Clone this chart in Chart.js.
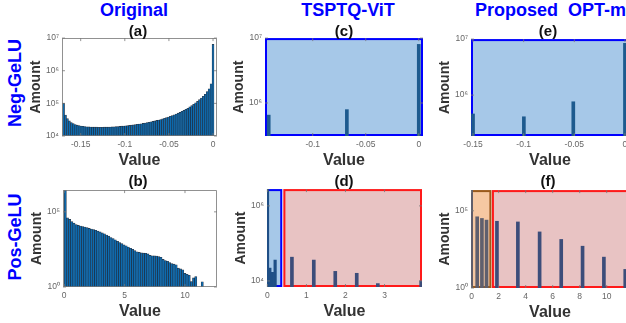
<!DOCTYPE html>
<html>
<head>
<meta charset="utf-8">
<script src="https://cdn.jsdelivr.net/npm/chart.js@4.4.0/dist/chart.umd.min.js"></script>
<style>
html, body { margin: 0; padding: 0; background: #fff; overflow: hidden; width: 626px; height: 323px; }
body { position: relative; font-family: "Liberation Sans", Arial, sans-serif; }
canvas { position: absolute; }
.lbl { position: absolute; white-space: pre; font-weight: bold; line-height: 1; }
.col { color: #0000ff; font-size: 18px; }
.row { color: #0000ff; font-size: 18px; transform: translate(-50%, -50%) rotate(-90deg); }
.sub { color: #111; font-size: 15px; transform: translate(-50%, -50%); }
</style>
</head>
<body>
<canvas id="pa"></canvas>
<canvas id="pb"></canvas>
<canvas id="pc"></canvas>
<canvas id="pd"></canvas>
<canvas id="pe"></canvas>
<canvas id="pf"></canvas>

<div class="lbl col" style="left:134px;top:1px;transform:translateX(-50%)">Original</div>
<div class="lbl col" style="left:348px;top:1px;transform:translateX(-50%)">TSPTQ-ViT</div>
<div class="lbl col" style="left:475px;top:1px">Proposed  OPT-m</div>
<div class="lbl row" style="left:15px;top:83px">Neg-GeLU</div>
<div class="lbl row" style="left:15px;top:237px">Pos-GeLU</div>
<div class="lbl sub" style="left:138px;top:30px">(a)</div>
<div class="lbl sub" style="left:138px;top:180px">(b)</div>
<div class="lbl sub" style="left:344px;top:30px">(c)</div>
<div class="lbl sub" style="left:344px;top:180px">(d)</div>
<div class="lbl sub" style="left:548px;top:30px">(e)</div>
<div class="lbl sub" style="left:548px;top:180px">(f)</div>

<script>
// (a) original Neg-GeLU histogram
const negBinStart = -0.1705
const negBinWidth = 0.0022
const negAmount = [
  100000, 44000, 34000, 29000, 26000, 24000, 22500, 21500, 20800, 20200,
  19800, 19500, 19200, 19000, 18800, 18700, 18600, 18600, 18500, 18500,
  18500, 18600, 18600, 18700, 18800, 19000, 19100, 19300, 19500, 19700,
  20000, 20200, 20500, 20800, 21100, 21500, 21900, 22300, 22800, 23300,
  23800, 24400, 25000, 25700, 26400, 27200, 28000, 29000, 30000, 31000,
  32000, 33500, 35000, 36500, 38000, 40000, 42000, 44500, 47000, 50000,
  53000, 57000, 61000, 66000, 71000, 78000, 85000, 94000, 104000, 115000,
  130000, 145000, 165000, 190000, 230000, 280000, 400000, 6400000
]
const negTicksX = [-0.15, -0.1, -0.05, 0]
const negTicksY = [1e4, 1e5, 1e6, 1e7]

// (b) original Pos-GeLU histogram
const posBinStart = 0
const posBinWidth = 0.18
const posAmount = [
  5000000, 39800, 31600, 22400, 17800, 14100, 12600, 11500, 10500, 9800,
  8900, 7900, 7200, 6600, 6000, 5200, 4600, 4000, 3500, 2900,
  2400, 1950, 1660, 1380, 1100, 910, 760, 630, 550, 460,
  380, 320, 260, 220, 200, 186, 178, 174, 158, 126,
  120, 117, 115, 105, 95, 69, 58, 52, 42, 36,
  33, 30, 18, 16, 14, 8, 7, 6, 2.3, 4,
  5, null, null, 2.2
]
const posTicksX = [0, 5, 10]
const posTicksY = [1, 1e5]

// (c) TSPTQ-ViT Neg-GeLU
const tsptqNegValue = [-0.1415, -0.0678, 0]
const tsptqNegAmount = [650000, 790000, 8000000]
const tsptqNegTicksX = [-0.1, -0.05, 0]
const tsptqNegTicksY = [1e6, 1e7]

// (d) TSPTQ-ViT Pos-GeLU
const tsptqPosInValue = [0.035, 0.095, 0.16, 0.23]
const tsptqPosInAmount = [5000000, 22000, 17000, 36000]
const tsptqPosOutValue = [0.59, 1.15, 1.70, 2.25, 2.79, 3.9]
const tsptqPosOutAmount = [43000, 36000, 18000, 16000, 8500, 10000]
const tsptqPosTicksX = [0, 1, 2, 3]
const tsptqPosTicksY = [1e4, 1e6]

// (e) proposed Neg-GeLU
const optNegValue = [-0.150, -0.0998, -0.051, 0]
const optNegAmount = [460000, 410000, 760000, 8400000]
const optNegTicksX = [-0.15, -0.1, -0.05, 0]
const optNegTicksY = [1e6, 1e7]

// (f) proposed Pos-GeLU
const optPosInValue = [0.07, 0.52, 0.87, 1.21]
const optPosInAmount = [5000000, 41000, 32000, 25000]
const optPosOutValue = [1.76, 3.31, 4.92, 6.52, 8.1, 9.68, 11.26]
const optPosOutAmount = [21000, 19000, 4300, 1400, 510, 100, 16]
const optPosTicksX = [0, 2, 4, 6, 8, 10]
const optPosTicksY = [1, 1e5]

const SUP = "⁰¹²³⁴⁵⁶⁷⁸⁹"
const FONT = '"Liberation Sans", Arial, sans-serif'
const lightBlue = '#a6c8e8', blue = '#0000ff'
const pink = '#e8c3c3', red = '#ff1a1a'
const orange = '#f6c8a2', brown = '#9a5a1c'

const pairs = (xs, ys) => xs.map((x, i) => ({ x: x, y: ys[i] }))
const bins = (start, w, ys) => ys.map((y, i) => ({ x: start + (i + 0.5) * w, y: y }))

// shaded ranges, axes box and inward tick marks (MATLAB look)
const panelFrame = {
  id: 'panelFrame',
  beforeDatasetsDraw(chart, args, opts) {
    const { ctx, chartArea: a, scales: { x } } = chart
    ctx.save()
    ;(opts.regions || []).forEach(r => {
      const x0 = Math.max(x.getPixelForValue(r.from), a.left)
      const x1 = Math.min(x.getPixelForValue(r.to), a.right)
      ctx.fillStyle = r.fill
      ctx.fillRect(x0, a.top, x1 - x0, a.bottom - a.top)
      ctx.strokeStyle = r.edge
      ctx.lineWidth = 2
      ctx.strokeRect(x0 + 1, a.top + 1, x1 - x0 - 2, a.bottom - a.top - 2)
    })
    ctx.restore()
  },
  afterDatasetsDraw(chart, args, opts) {
    const { ctx, chartArea: a, scales: { x, y } } = chart
    ctx.save()
    ctx.strokeStyle = '#777'
    ctx.lineWidth = 0.8
    ctx.beginPath()
    x.ticks.forEach(t => {
      const px = x.getPixelForValue(t.value)
      ctx.moveTo(px, a.bottom); ctx.lineTo(px, a.bottom - 3)
      ctx.moveTo(px, a.top); ctx.lineTo(px, a.top + 3)
    })
    y.ticks.forEach(t => {
      const py = y.getPixelForValue(t.value)
      ctx.moveTo(a.left, py); ctx.lineTo(a.left + 3, py)
      ctx.moveTo(a.right, py); ctx.lineTo(a.right - 3, py)
    })
    ctx.stroke()
    if (!(opts.regions || []).length) {
      ctx.strokeRect(a.left + 0.5, a.top + 0.5, a.right - a.left - 1, a.bottom - a.top - 1)
    }
    ctx.restore()
  }
}

function makePanel(id, cfg) {
  const el = document.getElementById(id)
  const yW = 34, xH = 34, padT = 8, padR = 6
  const [l, t, r, b] = cfg.plot
  const w = r - l + yW + padR, h = b - t + padT + xH
  el.style.left = (l - yW) + 'px'
  el.style.top = (t - padT) + 'px'
  el.width = w; el.height = h
  el.style.width = w + 'px'; el.style.height = h + 'px'

  return new Chart(el, {
    type: 'bar',
    data: { datasets: cfg.datasets },
    options: {
      responsive: false,
      animation: false,
      layout: { padding: { top: padT, right: padR, left: 0, bottom: 0 } },
      plugins: {
        legend: { display: false },
        tooltip: { enabled: false },
        panelFrame: { regions: cfg.regions || [] }
      },
      scales: {
        x: {
          type: 'linear', min: cfg.xRange[0], max: cfg.xRange[1], offset: false,
          grid: { display: false, drawTicks: false }, border: { display: false },
          afterFit: s => { s.height = xH },
          afterBuildTicks: s => { s.ticks = cfg.xTicks.map(v => ({ value: v })) },
          ticks: { autoSkip: false, maxRotation: 0, padding: 4, color: '#666', font: { family: FONT, size: 8.5 }, callback: v => String(v) },
          title: { display: true, text: 'Value', color: '#333', font: { family: FONT, size: 16, weight: 'bold' }, padding: 0 }
        },
        y: {
          type: 'logarithmic', min: cfg.yRange[0], max: cfg.yRange[1],
          grid: { display: false, drawTicks: false }, border: { display: false },
          afterFit: s => { s.width = yW },
          afterBuildTicks: s => { s.ticks = cfg.yTicks.map(v => ({ value: v })) },
          ticks: { autoSkip: false, padding: 3, color: '#666', font: { family: FONT, size: 8.5 },
            callback: v => '10' + String(Math.round(Math.log10(v))).split('').map(d => SUP[+d]).join('') },
          title: { display: true, text: 'Amount', color: '#333', font: { family: FONT, size: 14, weight: 'bold' }, padding: 0 }
        }
      }
    },
    plugins: [panelFrame]
  })
}

const histStyle = { backgroundColor: '#0d6bb0', borderColor: 'rgba(10,20,35,0.85)', borderWidth: 0.6, barPercentage: 1, categoryPercentage: 1 }

makePanel('pa', {
  plot: [62, 38, 217, 136], xRange: [-0.1712, 0.0045], yRange: [1e4, 1e7],
  xTicks: negTicksX, yTicks: negTicksY,
  datasets: [Object.assign({ data: bins(negBinStart, negBinWidth, negAmount) }, histStyle)]
})

makePanel('pb', {
  plot: [63, 190, 217, 287], xRange: [-0.1, 12.65], yRange: [1, 2.8e6],
  xTicks: posTicksX, yTicks: posTicksY,
  datasets: [Object.assign({ data: bins(posBinStart, posBinWidth, posAmount) }, histStyle)]
})

makePanel('pc', {
  plot: [265, 38, 423, 136], xRange: [-0.145, 0.004], yRange: [3.1e5, 1e7],
  xTicks: tsptqNegTicksX, yTicks: tsptqNegTicksY,
  regions: [{ from: -0.145, to: 0.004, fill: lightBlue, edge: blue }],
  datasets: [{ data: pairs(tsptqNegValue, tsptqNegAmount), backgroundColor: '#1d5a8e', barThickness: 3 }]
})

makePanel('pd', {
  plot: [267, 189, 422, 287], xRange: [-0.01, 3.96], yRange: [6.9e3, 2.8e6],
  xTicks: tsptqPosTicksX, yTicks: tsptqPosTicksY,
  regions: [
    { from: -0.01, to: 0.38, fill: lightBlue, edge: blue },
    { from: 0.41, to: 3.96, fill: pink, edge: red }
  ],
  datasets: [
    { data: pairs(tsptqPosInValue, tsptqPosInAmount), backgroundColor: '#1f4f86', barThickness: 2.5 },
    { data: pairs(tsptqPosOutValue, tsptqPosOutAmount), backgroundColor: '#3c4d7a', barThickness: 3 }
  ]
})

makePanel('pe', {
  plot: [471, 39, 629, 136], xRange: [-0.152, 0.004], yRange: [1.86e5, 1e7],
  xTicks: optNegTicksX, yTicks: optNegTicksY,
  regions: [{ from: -0.152, to: 0.004, fill: lightBlue, edge: blue }],
  datasets: [{ data: pairs(optNegValue, optNegAmount), backgroundColor: '#1d5a8e', barThickness: 3 }]
})

makePanel('pf', {
  plot: [471, 190, 629, 288], xRange: [-0.05, 11.65], yRange: [1, 2.2e6],
  xTicks: optPosTicksX, yTicks: optPosTicksY,
  regions: [
    { from: -0.05, to: 1.46, fill: orange, edge: brown },
    { from: 1.50, to: 11.65, fill: pink, edge: red }
  ],
  datasets: [
    { data: pairs(optPosInValue, optPosInAmount), backgroundColor: '#5f5f6e', barThickness: 3 },
    { data: pairs(optPosOutValue, optPosOutAmount), backgroundColor: '#3c4d7a', barThickness: 3 }
  ]
})
</script>
</body>
</html>
